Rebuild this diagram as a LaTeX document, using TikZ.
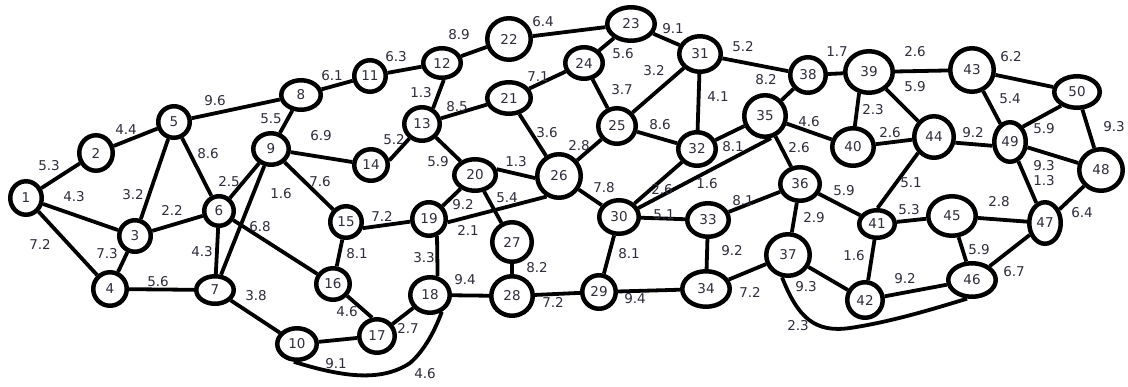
\documentclass[tikz,border=0pt]{standalone}
\usepackage{fontspec}
\newfontfamily\lblfont{DejaVu Sans}
\usetikzlibrary{shapes.geometric}
\definecolor{txt}{RGB}{45,45,60}
\tikzset{
  vx/.style={ellipse, draw, line width=4.5pt, inner sep=0pt, text=txt,
    font=\lblfont\fontsize{13.5}{15}\selectfont},
  edge/.style={line width=3.8pt},
  lbl/.style={inner sep=0pt, text=txt, font=\lblfont\fontsize{13.5}{15}\selectfont}
}
\newcommand\vtx[5]{\node[vx, minimum width={(2*#4-4.5)*1pt}, minimum height={(2*#5-4.5)*1pt}] (n#1) at (#2,#3) {#1};}
\begin{document}
\begin{tikzpicture}[x=1pt,y=-1pt]
\fill[white] (0,0) rectangle (1128,386);
\useasboundingbox (0,0) rectangle (1128,386);
\vtx{1}{26}{198}{18}{19}
\vtx{2}{96}{153}{19}{20}
\vtx{3}{135}{236}{18}{18}
\vtx{4}{110}{289}{19}{19}
\vtx{5}{174}{122}{18}{18}
\vtx{6}{219}{211}{17}{17}
\vtx{7}{215}{290}{21}{16}
\vtx{8}{301}{95}{22}{17}
\vtx{9}{271}{149}{20}{18}
\vtx{10}{297}{344}{22}{18}
\vtx{11}{370}{76}{18}{18}
\vtx{12}{442}{63}{21}{17}
\vtx{13}{422}{124}{20}{19}
\vtx{14}{371}{165}{19}{18}
\vtx{15}{346}{222}{18}{18}
\vtx{16}{333}{284}{19}{18}
\vtx{17}{377}{336}{20}{19}
\vtx{18}{430}{295}{22}{20}
\vtx{19}{429}{219}{19}{19}
\vtx{20}{475}{175}{23}{18}
\vtx{21}{509}{98}{24}{18}
\vtx{22}{509}{39}{24}{23}
\vtx{23}{631}{24}{26}{19}
\vtx{24}{584}{63}{21}{18}
\vtx{25}{617}{126}{21}{20}
\vtx{26}{559}{176}{24}{24}
\vtx{27}{512}{242}{22}{22}
\vtx{28}{512}{296}{23}{22}
\vtx{29}{599}{292}{19}{19}
\vtx{30}{619}{217}{22}{19}
\vtx{31}{700}{54}{23}{20}
\vtx{32}{697}{149}{21}{19}
\vtx{33}{708}{220}{23}{19}
\vtx{34}{706}{289}{26}{20}
\vtx{35}{765}{116}{23}{23}
\vtx{36}{800}{184}{22}{19}
\vtx{37}{788}{255}{24}{23}
\vtx{38}{808}{75}{20}{20}
\vtx{39}{869}{72}{26}{23}
\vtx{40}{853}{147}{23}{21}
\vtx{41}{877}{224}{20}{16}
\vtx{42}{865}{300}{20}{20}
\vtx{43}{972}{70}{24}{24}
\vtx{44}{934}{137}{22}{23}
\vtx{45}{952}{216}{26}{22}
\vtx{46}{972}{280}{26}{19}
\vtx{47}{1045}{223}{18}{23}
\vtx{48}{1101}{170}{24}{23}
\vtx{49}{1010}{142}{18}{22}
\vtx{50}{1077}{92}{25}{18}
\foreach \a/\b in {1/2,1/3,1/4,2/5,5/8,5/3,5/6,3/6,3/4,4/7,6/9,9/7,6/7,6/16,7/10,
  8/11,8/9,9/14,9/15,11/12,12/22,13/21,13/20,15/16,10/17,
  17/18,18/28,19/20,20/27,21/26,21/24,22/23,23/24,23/31,24/25,
  25/31,25/26,25/32,31/32,31/38,32/35,30/32,26/30,27/28,28/29,29/30,29/34,30/33,
  33/36,33/34,34/37,35/38,38/39,35/40,35/36,39/43,39/44,40/44,43/50,43/49,
  50/48,49/48,49/47,36/41,36/37,41/45,45/47,45/46,47/48,47/46,
  41/42,37/42,42/46}
  \draw[edge] (n\a) -- (n\b);
\draw[edge] (n30.25) -- (n35.285);
\draw[edge] (n19.-10) -- (n26.239);
\draw[edge] (n20.15) -- (n26.185);
\draw[edge] (n15.-20) -- (n19.188);
\draw[edge] (n49.50) -- (n50.221);
\draw[edge] (n44.-15) -- (n49.192);
\draw[edge] (n44.225) -- (n41.88);
\draw[edge] (n19.-65) -- (n18.68);
\draw[edge] (n16.-40) -- (n17.105);
\draw[edge] (n12.-84) -- (n13.55);
\draw[edge] (n39.245) -- (n40.85);
\draw[edge] (n14.14) -- (n13.229);
\draw[edge] (n10.260) .. controls (340,376) and (380,383) .. (410,363)
  .. controls (425,350) and (435,330) .. (n18.-55);
\draw[edge] (n37.255) .. controls (798,318) and (815,333) .. (850,328)
  .. controls (890,322) and (930,310) .. (n46.255);
\foreach \x/\y/\t [count=\i] in {49/166/5.3,74/197/4.3,40/244/7.2,126/130/4.4,
  215/101/9.6,133/195/3.2,208/154/8.6,172/210/2.2,107/254/7.3,158/282/5.6,
  229/182/2.5,281/194/1.6,202/252/4.3,260/227/6.8,256/296/3.8,332/76/6.1,
  271/119/5.5,321/136/6.9,320/182/7.6,396/57/6.3,459/35/8.9,421/93/1.3,
  457/107/8.5,394/140/5.2,438/162/5.9,382/216/7.2,357/254/8.1,347/312/4.6,
  336/364/9.1,425/374/4.6,408/328/2.7,424/258/3.3,465/280/9.4,463/205/9.2,
  468/230/2.1,507/198/5.4,516/162/1.3,547/133/3.6,538/77/7.1,543/22/6.4,
  623/54/5.6,673/29/9.1,622/90/3.7,654/71/3.2,579/146/2.8,660/125/8.6,
  718/97/4.1,743/47/5.2,733/147/8.1,662/190/2.6,707/184/1.6,604/188/7.8,
  537/268/8.2,553/302/7.2,629/254/8.1,635/299/9.4,664/215/5.1,743/201/8.1,
  732/251/9.2,750/292/7.2,766/80/8.2,837/52/1.7,809/122/4.6,799/148/2.6,
  915/52/2.6,873/110/2.3,915/87/5.9,890/133/2.6,1011/57/6.2,1010/99/5.4,
  973/133/9.2,1044/129/5.9,1114/127/9.3,1044/166/9.3,1044/181/1.3,911/183/5.1,
  844/191/5.9,814/218/2.9,909/210/5.3,999/202/2.8,979/250/5.9,1082/213/6.4,
  1014/272/6.7,854/256/1.6,806/287/9.3,905/279/9.2,798/326/2.3}
  \node[lbl] (l\i) at (\x,\y) {\t};
\end{tikzpicture}
\end{document}
